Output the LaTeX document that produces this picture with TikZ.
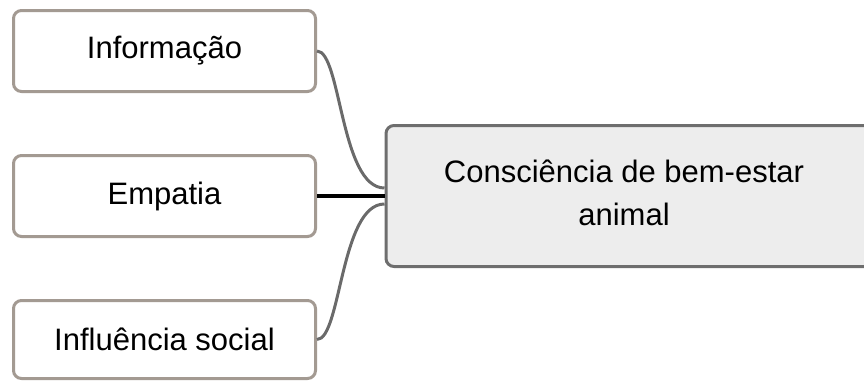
\documentclass[tikz,border=0pt]{standalone}
\usepackage{fontspec}
\setmainfont{Liberation Sans}
\definecolor{leafborder}{HTML}{A39A92}
\definecolor{mainborder}{HTML}{6E6E6E}
\definecolor{mainfill}{HTML}{EDEDED}
\definecolor{linkgray}{HTML}{6A6A6A}
\tikzset{
  leafbox/.style={draw=leafborder, line width=3pt, rounded corners=8pt, fill=white,
    minimum width=302pt, inner sep=0pt, font=\fontsize{31}{43}\selectfont},
  mainbox/.style={draw=mainborder, line width=3pt, rounded corners=8pt, fill=mainfill,
    minimum width=486pt, minimum height=141pt, inner sep=0pt},
  maintext/.style={align=center, inner sep=0pt, font=\fontsize{31}{43}\selectfont},
  curvelink/.style={draw=linkgray, line width=3pt},
  straightlink/.style={draw=black, line width=3.2pt}
}
\begin{document}
\begin{tikzpicture}[x=1pt,y=-1pt]
\useasboundingbox (0,0) rectangle (864,381);
\node[leafbox, minimum height=81pt] (info) at (164.5,51) {Informação};
\node[leafbox, minimum height=81pt] (emp) at (164.5,196) {Empatia};
\node[leafbox, minimum height=78pt] (infl) at (164.5,339.5) {Influência social};
\node[mainbox] (main) at (629,196) {};
\node[maintext] (mainlabel) at (624,193) {Consciência de bem-estar\\animal};
\draw[curvelink] (info.east) .. controls +(24pt,0pt) and +(-44pt,0pt) .. ([yshift=8pt]main.west);
\draw[curvelink] (infl.east) .. controls +(24pt,0pt) and +(-44pt,0pt) .. ([yshift=-8pt]main.west);
\draw[straightlink] (emp.east) -- (main.west);
\end{tikzpicture}
\end{document}
